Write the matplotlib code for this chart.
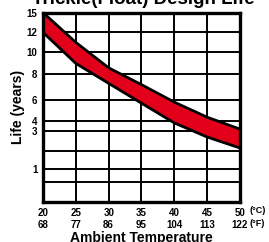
import numpy as np
import matplotlib
matplotlib.use('Agg')
import matplotlib.pyplot as plt

plt.rcParams['font.family'] = ['Liberation Sans', 'DejaVu Sans']
plt.rcParams['font.weight'] = 'bold'

# data
temp_c = [20, 25, 30, 35, 40, 45, 50]
temp_f = [68, 77, 86, 95, 104, 113, 122]
life_upper = [15, 11.0, 8.6, 7.2, 5.8, 4.4, 3.2]
life_lower = [12, 9.0, 7.3, 5.7, 3.85, 2.7, 2.15]

y_ticks = [0, 0.5, 1, 2, 3, 4, 6, 8, 10, 12, 15]
y_labels = ['', '', '1', '', '3', '4', '6', '8', '10', '12', '15']

# the chart's y axis is not linear: place each gridline where the original has it
scale_pos = [0, 20, 33, 51, 71, 80.5, 102, 127.5, 149.5, 169.5, 189.3]

def fwd(v):
    return np.interp(v, y_ticks, scale_pos)

def inv(p):
    return np.interp(p, scale_pos, y_ticks)

fig = plt.figure(figsize=(2.69, 2.42), dpi=100)
ax = fig.add_axes([0.16, 0.165, 0.732, 0.783])
ax.set_yscale('function', functions=(fwd, inv))

ax.fill_between(temp_c, life_lower, life_upper, color='#e3001b', lw=0, zorder=3)
ax.plot(temp_c, life_upper, color='black', lw=2, zorder=4)
ax.plot(temp_c, life_lower, color='black', lw=2, zorder=4)

ax.set_xlim(20, 50)
ax.set_ylim(0, 15)
ax.set_xticks(temp_c)
ax.set_xticklabels([f'{c}\n{f}' for c, f in zip(temp_c, temp_f)], fontsize=7, fontweight='bold',
                   linespacing=1.3)
ax.set_yticks(y_ticks)
ax.set_yticklabels(y_labels, fontsize=7, fontweight='bold')
ax.tick_params(length=0, pad=4)
ax.grid(True, color='black', lw=1.4, zorder=1)

for s in ax.spines.values():
    s.set_linewidth(2.4)
    s.set_zorder(5)

ax.text(1.05, -0.045, '(\u00b0C)', transform=ax.transAxes, fontsize=6.5, fontweight='bold', va='center')
ax.text(1.05, -0.115, '(\u00b0F)', transform=ax.transAxes, fontsize=6.5, fontweight='bold', va='center')

fig.text(0.533, 0.983, 'Trickle(Float) Design Life', fontsize=13.5, fontweight='bold',
         ha='center', va='baseline')
ax.set_ylabel('Life (years)', fontsize=10, fontweight='bold', labelpad=1)
ax.set_xlabel('Ambient Temperature', fontsize=10, fontweight='bold', va='top')
ax.xaxis.set_label_coords(0.5, -0.155)

fig.savefig('out.png', dpi=100)
